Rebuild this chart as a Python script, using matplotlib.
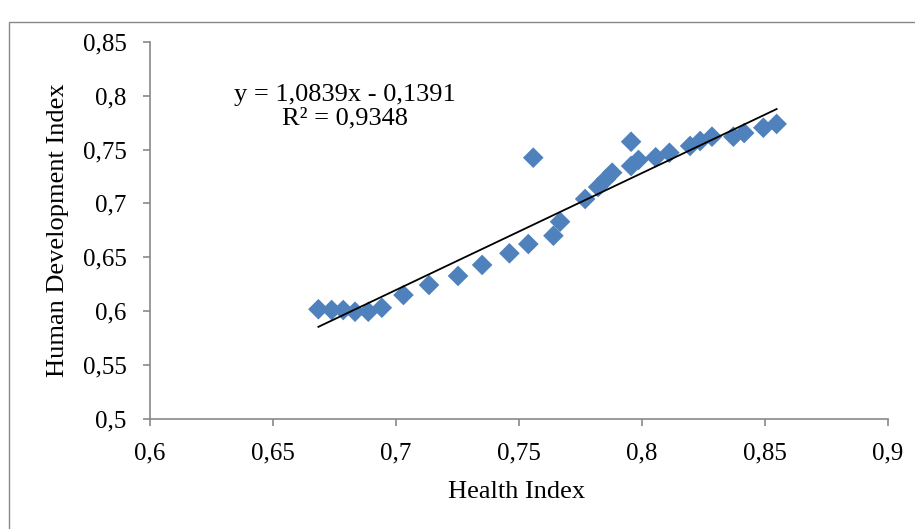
import matplotlib
matplotlib.use("Agg")
import matplotlib.pyplot as plt
from matplotlib.patches import Rectangle
import numpy as np

health_index = [0.6685, 0.6739, 0.6786, 0.6834, 0.6888, 0.6943, 0.7031, 0.7135,
                0.7253, 0.7351, 0.7462, 0.7539, 0.7559, 0.7641, 0.7668, 0.7770,
                0.7823, 0.7855, 0.7880, 0.7957, 0.7957, 0.7987, 0.8057, 0.8113,
                0.8197, 0.8238, 0.8286, 0.8373, 0.8417, 0.8495, 0.8549]
hdi = [0.6018, 0.6011, 0.6011, 0.5995, 0.5995, 0.6032, 0.6150, 0.6243,
       0.6327, 0.6429, 0.6537, 0.6623, 0.7424, 0.6700, 0.6830, 0.7041,
       0.7152, 0.7226, 0.7285, 0.7572, 0.7347, 0.7403, 0.7428, 0.7470,
       0.7533, 0.7579, 0.7619, 0.7619, 0.7653, 0.7702, 0.7737]

slope = 1.0839
intercept = -0.1391
r2_text = "R² = 0,9348"
eq_text = "y = 1,0839x - 0,1391"

x_ticks = [0.6, 0.65, 0.7, 0.75, 0.8, 0.85, 0.9]
x_tick_labels = ["0,6", "0,65", "0,7", "0,75", "0,8", "0,85", "0,9"]
y_ticks = [0.5, 0.55, 0.6, 0.65, 0.7, 0.75, 0.8, 0.85]
y_tick_labels = ["0,5", "0,55", "0,6", "0,65", "0,7", "0,75", "0,8", "0,85"]

plt.rcParams['font.family'] = ['Liberation Serif', 'DejaVu Serif']

W, H = 915, 529
fig = plt.figure(figsize=(W / 100, H / 100), dpi=100)

# outer chart border
fig.patches.append(Rectangle((9 / W, -0.1), 1.2, 1 - 22 / H + 0.1,
                             transform=fig.transFigure, fill=False,
                             edgecolor='#898989', linewidth=1.0))

left, right = 150 / W, 887.5 / W
bottom, top = 1 - 419 / H, 1 - 41.7 / H
ax = fig.add_axes([left, bottom, right - left, top - bottom])
ax.set_xlim(0.6, 0.9)
ax.set_ylim(0.5, 0.85)

ax.scatter(health_index, hdi, marker='D', s=10.5 ** 2, color='#4F81BD',
           edgecolors='none', zorder=3)

xs = np.array([min(health_index), max(health_index)])
ax.plot(xs, slope * xs + intercept, color='black', linewidth=1.3, zorder=4)

ax.text(0.6793, 0.795, eq_text, ha='center', va='baseline', fontsize=19)
ax.text(0.6793, 0.7734, r2_text, ha='center', va='baseline', fontsize=19)

for s in ['top', 'right']:
    ax.spines[s].set_visible(False)
for s in ['left', 'bottom']:
    ax.spines[s].set_color('#898989')
    ax.spines[s].set_linewidth(1.2)

ax.set_xticks(x_ticks)
ax.set_xticklabels(x_tick_labels)
ax.set_yticks(y_ticks)
ax.set_yticklabels(y_tick_labels)
ax.tick_params(axis='both', direction='out', length=5, width=1.2,
               color='#898989', labelsize=18, pad=12)

fig.text(517 / W, 1 - 498 / H, "Health Index", ha='center', va='baseline',
         fontsize=19)
fig.text(58 / W, 1 - 230 / H, "Human Development Index", ha='center',
         va='center', rotation=90, fontsize=19)

fig.savefig("out.png", dpi=100)
